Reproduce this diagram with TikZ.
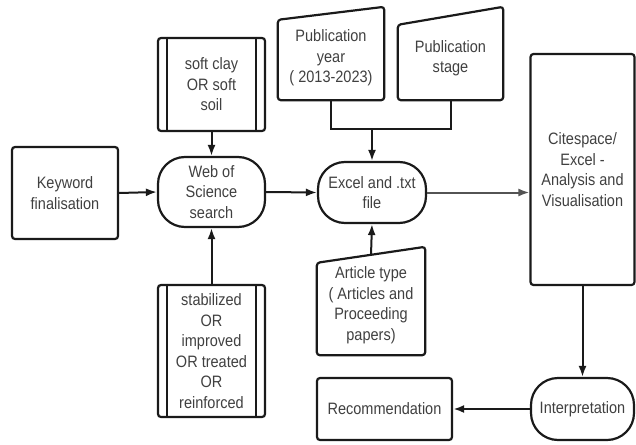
\documentclass[tikz,border=0pt]{standalone}
\usepackage{fontspec}
\setmainfont[FakeStretch=0.88]{Liberation Sans}
\usetikzlibrary{arrows.meta}
\definecolor{txtgray}{HTML}{404040}
\definecolor{edge}{HTML}{1A1A1A}
\tikzset{
  box/.style={draw=edge,line width=2.2pt,rounded corners=3pt,align=center,text=txtgray,inner sep=0pt},
  term/.style={box,rounded corners=27pt},
  txt/.style={align=center,text=txtgray,inner sep=0pt},
  outline/.style={draw=edge,line width=2.2pt,rounded corners=3pt},
  flow/.style={->,draw=edge,line width=2pt},
}
\begin{document}
\begin{tikzpicture}[x=1pt,y=-1pt,>={Latex[length=11pt,width=8pt]},font=\fontsize{16.5}{20.5}\selectfont]
\useasboundingbox (0,0) rectangle (636,444);
\node[box,minimum width=106,minimum height=92] (kw) at (65,193) {Keyword\\finalisation};
\node[box,minimum width=107,minimum height=93] (soft) at (211.5,84.5) {soft clay\\OR soft\\soil};
\draw[outline] ([xshift=10pt]soft.north west)--([xshift=10pt]soft.south west);
\draw[outline] ([xshift=-10pt]soft.north east)--([xshift=-10pt]soft.south east);
\node[term,minimum width=107,minimum height=70] (wos) at (211.5,192) {Web of\\Science\\search};
\node[box,minimum width=107,minimum height=132] (stab) at (211.5,351) {stabilized\\OR\\improved\\OR treated\\OR\\reinforced};
\draw[outline] ([xshift=10pt]stab.north west)--([xshift=10pt]stab.south west);
\draw[outline] ([xshift=-10pt]stab.north east)--([xshift=-10pt]stab.south east);
\node[term,minimum width=108,minimum height=61] (xl) at (372,192.5) {Excel and .txt\\file};
% manual inputs
\node[txt,minimum width=106,minimum height=84] (py) at (331,58) {Publication\\year\\( 2013-2023)};
\draw[outline] (py.south west)--(py.south east)--([yshift=9pt]py.north east)--([yshift=-4pt]py.north west)--cycle;
\node[txt,minimum width=105,minimum height=84] (ps) at (450.5,58) {Publication\\stage};
\draw[outline] (ps.south west)--(ps.south east)--([yshift=9pt]ps.north east)--([yshift=-9pt]ps.north west)--cycle;
\node[txt,minimum width=108,minimum height=100] (at) at (371,305) {Article type\\( Articles and\\Proceeding\\papers)};
\draw[outline] (at.south west)--(at.south east)--([yshift=8pt]at.north east)--([yshift=-8pt]at.north west)--cycle;
\node[box,minimum width=104,minimum height=231] (cs) at (582.5,169.5) {Citespace/\\Excel -\\Analysis and\\Visualisation};
\node[term,minimum width=103,minimum height=62] (ip) at (582.5,409) {Interpretation};
\node[box,minimum width=135,minimum height=62] (rec) at (384.5,409) {Recommendation};
% connectors
\coordinate (mrg) at (372,129);
\draw[flow] (kw.east)--(wos.west);
\draw[flow] (soft.south)--(wos.north);
\draw[flow] (stab.north)--(wos.south);
\draw[flow] (wos.east)--(xl.west);
\draw[draw=edge,line width=2pt] (py.south)|-(mrg)-|(ps.south);
\draw[flow] (mrg)--(xl.north);
\draw[flow] (at.north)--(xl.south);
\draw[flow,draw=edge!75] (xl.east)--(xl.east-|cs.west);
\draw[flow] (cs.south)--(ip.north);
\draw[flow,line width=2.8pt] (ip.west)--(rec.east);
\end{tikzpicture}
\end{document}
